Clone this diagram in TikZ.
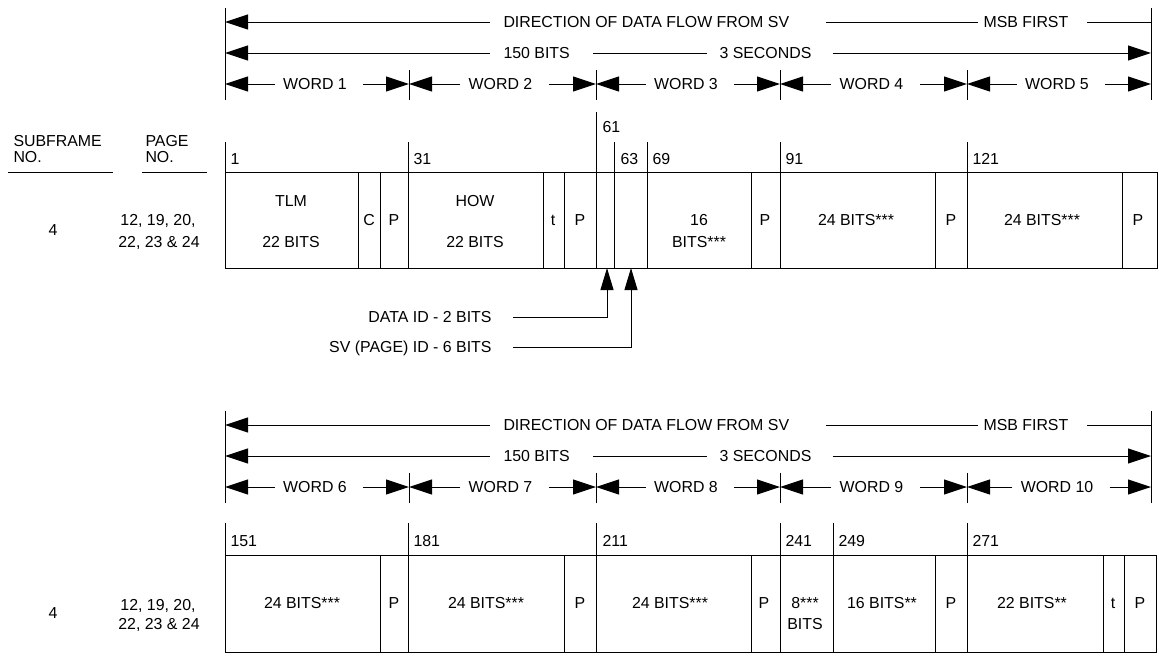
\documentclass[tikz,border=0pt]{standalone}
\usepackage{fontspec}
\setmainfont{Liberation Sans}
\usetikzlibrary{arrows.meta}

\begin{document}
\begin{tikzpicture}[x=1pt,y=-1pt,line width=1pt,font=\fontsize{15.9}{19}\selectfont,
  >={Triangle[length=23pt,width=15pt]},
  every node/.style={inner sep=0pt,text height=11.4pt,text depth=0pt},
  lb/.style={anchor=west},
  up/.style={-{Triangle[length=22pt,width=13pt]}}]
\useasboundingbox (0,0) rectangle (1159,659);

% header rows of both blocks
\foreach \oy/\s in {0/0,403/5}{
  \coordinate (l\s) at (225,8+\oy);
  \coordinate (r\s) at (1151,8+\oy);
  \draw (l\s) -- ++(0,92);
  \draw (r\s) -- ++(0,92);
  \node[lb] (dir\s) at (503,22+\oy) {DIRECTION OF DATA FLOW FROM SV};
  \node[lb] (msb\s) at (983,22+\oy) {MSB FIRST};
  \draw[->] ([xshift=-13pt]dir\s.west) -- (l\s |- dir\s);
  \draw ([xshift=36pt]dir\s.east) -- ([xshift=-5pt]msb\s.west);
  \draw ([xshift=18pt]msb\s.east) -- (r\s |- msb\s);
  \node[lb] (bits\s) at (503,53+\oy) {150 BITS};
  \node[lb] (sec\s) at (719,53+\oy) {3 SECONDS};
  \draw[->] ([xshift=-13pt]bits\s.west) -- (l\s |- bits\s);
  \draw ([xshift=23pt]bits\s.east) -- ([xshift=-12pt]sec\s.west);
  \draw[->] ([xshift=21pt]sec\s.east) -- (r\s |- sec\s);
  \foreach \x in {409,596,780,967} \draw (\x,70+\oy) -- (\x,100+\oy);
  \foreach \a/\b [count=\i] in {225/409,409/596,596/780,780/967,967/1151}{
    \pgfmathtruncatemacro\n{\i+\s}
    \coordinate (wa\n) at (\a,84+\oy);
    \coordinate (wb\n) at (\b,84+\oy);
    \node (wd\n) at ({(\a+\b)/2-2},84+\oy) {WORD \n};
    \draw[->] ([xshift=-8pt]wd\n.west) -- (wa\n);
    \draw[->] ([xshift=16pt]wd\n.east) -- (wb\n);
  }
}

% row headings
\node[lb] (sf) at (13,141) {SUBFRAME};
\node[lb] (sfno) at (13,157) {NO.};
\node[lb] (pg) at (145,141) {PAGE};
\node[lb] (pgno) at (145,157) {NO.};
\draw (8,172) -- (113,172);
\draw (142,172) -- (207,172);

% subframe 4, words 1-5
\node (sfa) at (53,230) {4};
\node (pga) at (158,220) {12, 19, 20,};
\node (pgb) at (159,242) {22, 23 \& 24};
\draw (225,172) -- (1157,172) -- (1157,268) -- (225,268);
\foreach \x/\y in {225/142,408/142,596/112,614/142,647/142,780/142,967/142}
  \draw (\x,\y) -- (\x,268);
\foreach \x in {358,380,543,564,751,935,1122} \draw (\x,172) -- (\x,268);
\foreach \x/\v in {230/1,413/31,620/63,652/69,785/91,972/121}
  \node[lb] (b\v) at (\x,159) {\v};
\node[lb] (b61) at (602,127) {61};
\node (tlm) at (291,201) {TLM};
\node (tlmb) at (291,242) {22 BITS};
\node (c1) at (369,220) {C};
\node (p1) at (394,220) {P};
\node (how) at (475,201) {HOW};
\node (howb) at (475,242) {22 BITS};
\node (t2) at (553,220) {t};
\node (p2) at (580,220) {P};
\node (w3a) at (699,220) {16};
\node (w3b) at (699,242) {BITS***};
\node (p3) at (765,220) {P};
\node (w4) at (856,220) {24 BITS***};
\node (p4) at (951,220) {P};
\node (w5) at (1042,220) {24 BITS***};
\node (p5) at (1138,220) {P};

% ID callouts
\coordinate (ida) at (607,268);
\coordinate (svida) at (631,268);
\node[anchor=east] (did) at (492,317) {DATA ID - 2 BITS};
\node[anchor=east] (svid) at (492,347) {SV (PAGE) ID - 6 BITS};
\draw[up] ([xshift=21pt]did.east) -| (ida);
\draw[up] ([xshift=21pt]svid.east) -| (svida);

% subframe 4, words 6-10
\node (sfc) at (53,613) {4};
\node (pgc) at (158,605) {12, 19, 20,};
\node (pgd) at (159,624) {22, 23 \& 24};
\draw (225,555) -- (1156,555) -- (1156,652) -- (225,652);
\foreach \x in {225,408,596,780,833,967} \draw (\x,523) -- (\x,652);
\foreach \x in {380,564,751,935,1103,1124} \draw (\x,555) -- (\x,652);
\foreach \x/\v in {230/151,413/181,602/211,785/241,838/249,972/271}
  \node[lb] (b\v) at (\x,541) {\v};
\node (w6) at (302,603) {24 BITS***};
\node (p6) at (394,603) {P};
\node (w7) at (486,603) {24 BITS***};
\node (p7) at (580,603) {P};
\node (w8) at (670,603) {24 BITS***};
\node (p8) at (764,603) {P};
\node (w9a) at (805,603) {8***};
\node (w9b) at (805,624) {BITS};
\node (w9c) at (882,603) {16 BITS**};
\node (p9) at (951,603) {P};
\node (w10) at (1032,603) {22 BITS**};
\node (t10) at (1113,603) {t};
\node (p10) at (1140,603) {P};
\end{tikzpicture}
\end{document}
